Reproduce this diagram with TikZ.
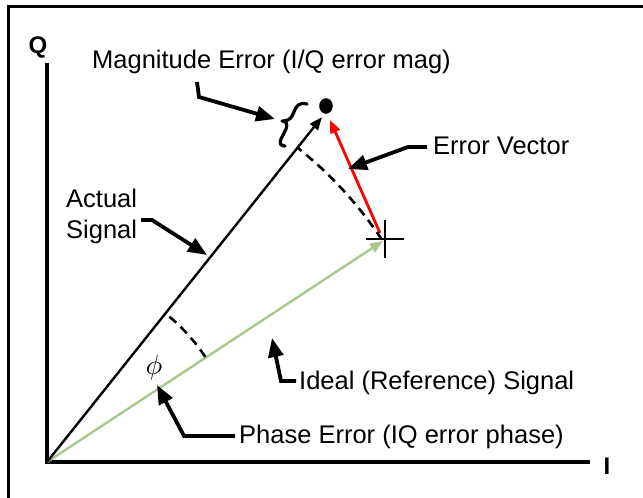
\documentclass[tikz,border=0pt]{standalone}
\usepackage{fontspec}
\setmainfont{Liberation Sans}
\usetikzlibrary{calc,arrows.meta,shapes.geometric}
\definecolor{idealgreen}{RGB}{170,200,140}
\tikzset{
  lbl/.style={inner sep=0pt,anchor=west,font=\fontsize{25.5}{31}\selectfont},
  axlbl/.style={inner sep=0pt,font=\fontsize{24}{28}\selectfont\bfseries},
  axis/.style={line width=3.2pt},
  callout/.style={line width=3.8pt,-{Triangle[length=19pt,width=15pt]}},
  vec/.style={line width=2.4pt,-{Triangle[length=13pt,width=10pt]}},
  dashedarc/.style={line width=2.6pt,dash pattern=on 9pt off 6pt},
}
\begin{document}
\begin{tikzpicture}[x=1pt,y=-1pt]
\useasboundingbox (0,0) rectangle (643,498);
% frame
\draw[line width=3pt] (8,498) -- (8,6) -- (643,6);
% axes
\coordinate (O) at (47,462);
\coordinate (Qtop) at (47,63);
\coordinate (Iend) at (590,462);
\draw[axis] (Qtop) -- (O) -- (Iend);
\node[axlbl] (Q) at (38,47) {Q};
\node[axlbl] (I) at (607,466) {I};
% dot and cross
\node[ellipse,draw,fill,minimum width=13pt,minimum height=15pt,inner sep=0pt] (dot) at (326,106) {};
\node[inner sep=0pt] (cross) at (385,239) {};
\draw[line width=2.8pt] ($(cross)+(-19,0)$) -- ($(cross)+(19,0)$);
\draw[line width=2.8pt] ($(cross)+(0,-19)$) -- ($(cross)+(0,19)$);
% vectors
\coordinate (atip) at (322,117);
\coordinate (gtip) at (383,241);
\coordinate (rstart) at (380,233);
\coordinate (rtip) at (330,120);
\draw[vec,idealgreen] (O) -- (gtip);
\draw[vec,black] (O) -- (atip);
\draw[vec,red,line width=2.8pt] (rstart) -- (rtip);
% arcs
\draw[dashedarc] ($(O)+(-33.6:402)$) arc[start angle=-33.6,end angle=-51.3,radius=402];
\draw[dashedarc] ($(O)+(-33.6:190)$) arc[start angle=-33.6,end angle=-51.3,radius=190];
\node[inner sep=0pt] (phi) at (154,367) {\scalebox{2.8}{$\phi$}};
% brace
\draw[line width=3.2pt,line cap=round,line join=round]
  (307,104) .. controls (299,102) and (296,106) .. (294,112)
  -- (292,116) .. controls (290,120) and (286,121) .. (282,121)
  .. controls (286,121) and (288,124) .. (286,129)
  -- (281,139) .. controls (279,144) and (281,146) .. (285,146);
% labels
\node[lbl] (mag) at (92,62) {Magnitude Error (I/Q error mag)};
\node[lbl] (ev) at (433,146) {Error Vector};
\node[lbl,align=left] (act) at (66,216) {Actual\\Signal};
\node[lbl] (ideal) at (299,383) {Ideal (Reference) Signal};
\node[lbl] (phase) at (239,437) {Phase Error (IQ error phase)};
% callouts
\coordinate (c1a) at (197,82);
\coordinate (c1b) at (199,97);
\coordinate (c1t) at (275,119);
\draw[callout] (c1a) -- (c1b) -- (c1t);
\coordinate (c2a) at (427,147);
\coordinate (c2b) at (408,147);
\coordinate (c2t) at (348,169);
\draw[callout] (c2a) -- (c2b) -- (c2t);
\coordinate (c3a) at (141,220);
\coordinate (c3b) at (152,220);
\coordinate (c3t) at (207,255);
\draw[callout] (c3a) -- (c3b) -- (c3t);
\coordinate (c4a) at (296,381);
\coordinate (c4b) at (281,381);
\coordinate (c4t) at (272,338);
\draw[callout] (c4a) -- (c4b) -- (c4t);
\coordinate (c5a) at (235,436);
\coordinate (c5b) at (184,436);
\coordinate (c5t) at (157,385);
\draw[callout] (c5a) -- (c5b) -- (c5t);
\end{tikzpicture}
\end{document}
